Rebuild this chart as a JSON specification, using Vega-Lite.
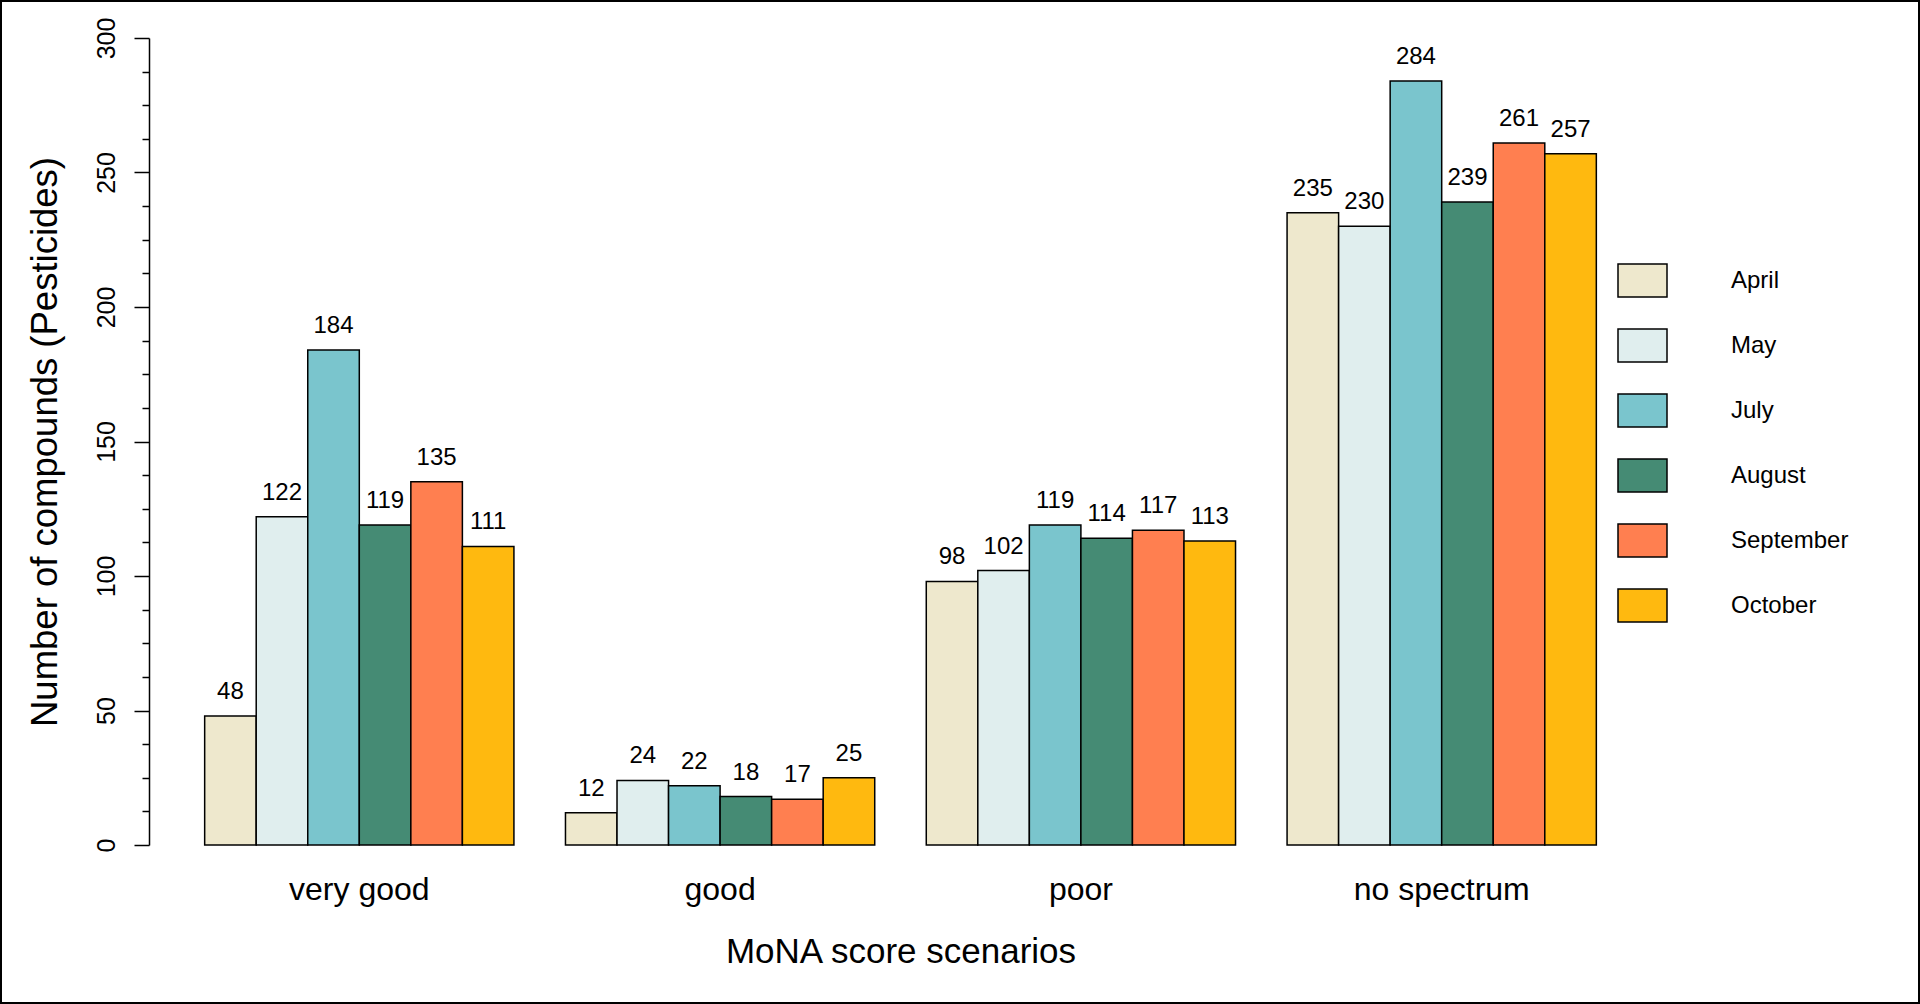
{
  "$schema": "https://vega.github.io/schema/vega-lite/v6.json",
  "width": 1920,
  "height": 1004,
  "autosize": {"type": "none"},
  "padding": 0,
  "background": "white",
  "config": {
    "view": {"stroke": "black", "strokeWidth": 4, "fill": "white"},
    "font": "Liberation Sans"
  },
  "data": {
    "values": [
      {"scenario": "very good", "month": "April", "count": 48},
      {"scenario": "very good", "month": "May", "count": 122},
      {"scenario": "very good", "month": "July", "count": 184},
      {"scenario": "very good", "month": "August", "count": 119},
      {"scenario": "very good", "month": "September", "count": 135},
      {"scenario": "very good", "month": "October", "count": 111},
      {"scenario": "good", "month": "April", "count": 12},
      {"scenario": "good", "month": "May", "count": 24},
      {"scenario": "good", "month": "July", "count": 22},
      {"scenario": "good", "month": "August", "count": 18},
      {"scenario": "good", "month": "September", "count": 17},
      {"scenario": "good", "month": "October", "count": 25},
      {"scenario": "poor", "month": "April", "count": 98},
      {"scenario": "poor", "month": "May", "count": 102},
      {"scenario": "poor", "month": "July", "count": 119},
      {"scenario": "poor", "month": "August", "count": 114},
      {"scenario": "poor", "month": "September", "count": 117},
      {"scenario": "poor", "month": "October", "count": 113},
      {"scenario": "no spectrum", "month": "April", "count": 235},
      {"scenario": "no spectrum", "month": "May", "count": 230},
      {"scenario": "no spectrum", "month": "July", "count": 284},
      {"scenario": "no spectrum", "month": "August", "count": 239},
      {"scenario": "no spectrum", "month": "September", "count": 261},
      {"scenario": "no spectrum", "month": "October", "count": 257}
    ]
  },
  "encoding": {
    "x": {
      "field": "scenario",
      "type": "nominal",
      "sort": ["very good", "good", "poor", "no spectrum"],
      "scale": {"range": [149, 1652], "paddingInner": 0.142857, "paddingOuter": 0.1543},
      "axis": {
        "title": "MoNA score scenarios",
        "offset": -159,
        "domain": false,
        "ticks": false,
        "tickSize": 0,
        "labelAngle": 0,
        "labelFontSize": 32,
        "labelColor": "black",
        "labelBaseline": "middle",
        "labelPadding": 44,
        "titleFontSize": 35,
        "titleFontWeight": "normal",
        "titleColor": "black",
        "titleBaseline": "middle",
        "titleY": 106
      }
    },
    "xOffset": {
      "field": "month",
      "type": "nominal",
      "sort": ["April", "May", "July", "August", "September", "October"],
      "scale": {"paddingInner": 0, "paddingOuter": 0}
    },
    "y": {
      "field": "count",
      "type": "quantitative",
      "scale": {"domain": [0, 300], "range": [845, 38], "nice": false, "zero": true},
      "axis": {
        "title": "Number of compounds (Pesticides)",
        "offset": -149,
        "grid": false,
        "values": [0,12.5,25,37.5,50,62.5,75,87.5,100,112.5,125,137.5,150,162.5,175,187.5,200,212.5,225,237.5,250,262.5,275,287.5,300],
        "labelExpr": "datum.value % 50 === 0 ? datum.label : ''",
        "labelOverlap": false,
        "labelFlush": false,
        "labelAngle": 270,
        "labelAlign": "center",
        "labelBaseline": "middle",
        "labelPadding": 28,
        "labelFontSize": 25,
        "labelColor": "black",
        "tickSize": {"condition": {"test": "datum.value % 50 === 0", "value": 15}, "value": 7},
        "tickColor": "black",
        "tickWidth": 1.5,
        "domainColor": "black",
        "domainWidth": 1.5,
        "titleFontSize": 36.5,
        "titleFontWeight": "normal",
        "titleColor": "black",
        "titleBaseline": "middle",
        "titleX": -104
      }
    }
  },
  "layer": [
    {
      "mark": {"type": "bar", "stroke": "black", "strokeWidth": 1.5},
      "encoding": {
        "color": {
          "field": "month",
          "type": "nominal",
          "sort": ["April", "May", "July", "August", "September", "October"],
          "scale": {
            "domain": ["April", "May", "July", "August", "September", "October"],
            "range": ["#EEE8CD", "#E0EEEE", "#7AC5CD", "#458B74", "#FF7F50", "#FFB90F"]
          },
          "legend": {
            "title": null,
            "orient": "none",
            "legendX": 1617,
            "legendY": 255,
            "direction": "vertical",
            "symbolType": "M-1,-0.673H1V0.673H-1Z",
            "symbolSize": 2401,
            "symbolStrokeColor": "black",
            "symbolStrokeWidth": 1.5,
            "symbolOpacity": 1,
            "labelFontSize": 24,
            "labelColor": "black",
            "labelOffset": 63,
            "rowPadding": 20,
            "labelLimit": 300
          }
        }
      }
    },
    {
      "mark": {"type": "text", "baseline": "middle", "dy": -24, "fontSize": 24, "color": "black"},
      "encoding": {
        "text": {"field": "count", "type": "quantitative"}
      }
    }
  ]
}
